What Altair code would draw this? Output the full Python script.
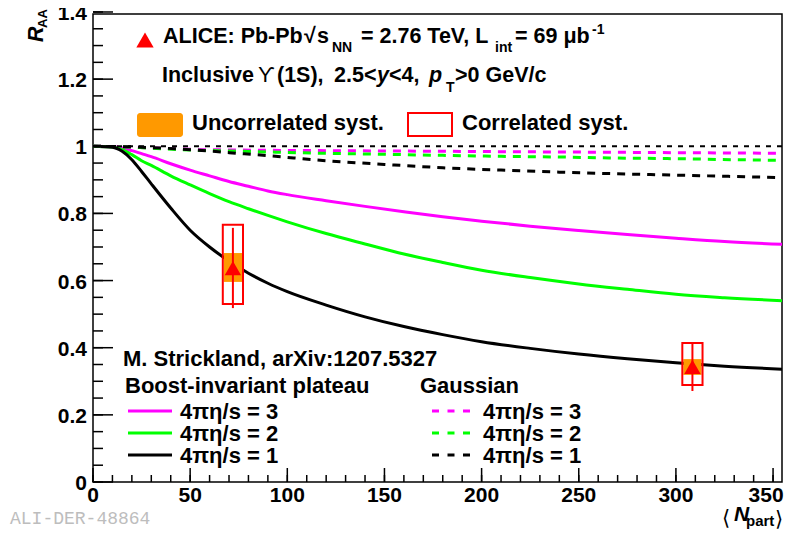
import altair as alt
import pandas as pd

# ---------------- data ----------------
# Boost-invariant plateau (solid curves)
N_SOLID = [0, 10, 15, 20, 25, 30, 40, 50, 60, 70, 80, 90, 100, 120, 140, 160,
           180, 200, 225, 250, 275, 300, 325, 358]
R_PLATEAU_3 = [1.0, 0.999, 0.995, 0.987, 0.978, 0.969, 0.948, 0.929, 0.912, 0.895,
               0.881, 0.867, 0.856, 0.838, 0.821, 0.805, 0.790, 0.777, 0.762, 0.749,
               0.737, 0.726, 0.716, 0.707]
R_PLATEAU_2 = [1.0, 0.998, 0.990, 0.975, 0.957, 0.943, 0.912, 0.885, 0.859, 0.835,
               0.814, 0.794, 0.775, 0.740, 0.709, 0.679, 0.654, 0.631, 0.609, 0.590,
               0.574, 0.559, 0.549, 0.539]
R_PLATEAU_1 = [1.0, 0.997, 0.985, 0.960, 0.925, 0.888, 0.816, 0.750, 0.700, 0.658,
               0.622, 0.592, 0.567, 0.527, 0.492, 0.463, 0.439, 0.418, 0.398, 0.381,
               0.367, 0.355, 0.345, 0.335]

# Gaussian (dashed curves)
N_GAUSS = [0, 15, 30, 50, 70, 90, 120, 150, 180, 210, 240, 270, 300, 330, 358]
R_GAUSS_3 = [1.0, 0.999, 0.995, 0.991, 0.989, 0.988, 0.987, 0.986, 0.985, 0.984,
             0.983, 0.982, 0.981, 0.980, 0.979]
R_GAUSS_2 = [1.0, 0.999, 0.994, 0.989, 0.986, 0.983, 0.979, 0.976, 0.973, 0.970,
             0.968, 0.965, 0.963, 0.960, 0.958]
R_GAUSS_1 = [1.0, 0.999, 0.996, 0.990, 0.981, 0.972, 0.957, 0.946, 0.936, 0.929,
             0.923, 0.918, 0.914, 0.910, 0.906]

ETA_LABELS = ["3", "2", "1"]
UNITY = [1.0]

# ALICE data points
PT_N = [72.0, 308.5]
PT_R = [0.637, 0.343]
STAT_LO = [0.518, 0.271]
STAT_HI = [0.757, 0.417]
UNC_LO = [0.596, 0.319]
UNC_HI = [0.682, 0.366]
COR_LO = [0.530, 0.289]
COR_HI = [0.766, 0.414]

# axis ticks and tick labels
X_TICKS = [0, 50, 100, 150, 200, 250, 300, 350]
X_TICK_TEXT = ["0", "50", "100", "150", "200", "250", "300", "350"]
X_MINOR = list(range(0, 351, 10))
Y_TICKS = [0.0, 0.2, 0.4, 0.6, 0.8, 1.0, 1.2, 1.4]
Y_TICK_TEXT = ["0", "0.2", "0.4", "0.6", "0.8", "1", "1.2", "1.4"]
Y_MINOR = [round(i * 0.05, 2) for i in range(29)]

# ---------------- layout ----------------
W, H = 689, 468
PAD_L, PAD_T = 85, 6
PAD_R = 776 - PAD_L - W
PAD_B = 521 - PAD_T - H
OX, OY = 8 + PAD_L, 8 + PAD_T
FONT = "Liberation Sans"
MAGENTA, GREEN, BLACK = "#ff00ff", "#00ff00", "#000000"
ORANGE = "#ff9900"
BOX_HALF_COR = 5.2
BOX_HALF_UNC = 4.7


def sx(x):
    return x - OX


def sy(y):
    return y - OY


one = pd.DataFrame({"k": [0]})


def label(s, x, y, size=22, italic=False, weight="bold", color="black",
          font=FONT, angle=None):
    kw = dict(text=s, align="left", baseline="alphabetic", font=font,
              fontSize=size, fontWeight=weight, color=color)
    if italic:
        kw["fontStyle"] = "italic"
    if angle is not None:
        kw["angle"] = angle
    return alt.Chart(one).mark_text(**kw).encode(
        x=alt.value(sx(x)), y=alt.value(sy(y)))


xscale = alt.Scale(domain=[0, 354.6], nice=False, zero=False)
yscale = alt.Scale(domain=[0, 1.394], nice=False, zero=False)
cscale = alt.Scale(domain=ETA_LABELS, range=[MAGENTA, GREEN, BLACK])

solid_df = pd.concat([
    pd.DataFrame({"N": N_SOLID, "R": r, "eta": e})
    for r, e in zip([R_PLATEAU_3, R_PLATEAU_2, R_PLATEAU_1], ETA_LABELS)
])
gauss_df = pd.concat([
    pd.DataFrame({"N": N_GAUSS, "R": r, "eta": e})
    for r, e in zip([R_GAUSS_3, R_GAUSS_2, R_GAUSS_1], ETA_LABELS)
])
pts_df = pd.DataFrame({"N": PT_N, "R": PT_R, "slo": STAT_LO, "shi": STAT_HI,
                       "ulo": UNC_LO, "uhi": UNC_HI, "clo": COR_LO, "chi": COR_HI})

solid = alt.Chart(solid_df).mark_line(strokeWidth=3, clip=True, interpolate="monotone").encode(
    x=alt.X("N:Q", scale=xscale, axis=None),
    y=alt.Y("R:Q", scale=yscale, axis=None),
    color=alt.Color("eta:N", scale=cscale, legend=None),
)
gauss = alt.Chart(gauss_df).mark_line(strokeWidth=3, strokeDash=[8, 7], clip=True,
                                      interpolate="monotone").encode(
    x=alt.X("N:Q", scale=xscale, axis=None),
    y=alt.Y("R:Q", scale=yscale, axis=None),
    color=alt.Color("eta:N", scale=cscale, legend=None),
)
unity = alt.Chart(pd.DataFrame({"R": UNITY})).mark_rule(
    color="black", strokeWidth=2, strokeDash=[5, 6]).encode(
    y=alt.Y("R:Q", scale=yscale, axis=None))

# ticks drawn inside the frame (ROOT style)
xmaj = alt.Chart(pd.DataFrame({"v": X_TICKS})).mark_rule(color="black", strokeWidth=1.5).encode(
    x=alt.X("v:Q", scale=xscale, axis=None), y=alt.value(H), y2=alt.value(H - 14))
xmin = alt.Chart(pd.DataFrame({"v": X_MINOR})).mark_rule(color="black", strokeWidth=1.5).encode(
    x=alt.X("v:Q", scale=xscale, axis=None), y=alt.value(H), y2=alt.value(H - 7))
ymaj = alt.Chart(pd.DataFrame({"v": Y_TICKS})).mark_rule(color="black", strokeWidth=1.5).encode(
    y=alt.Y("v:Q", scale=yscale, axis=None), x=alt.value(0), x2=alt.value(20))
ymin = alt.Chart(pd.DataFrame({"v": Y_MINOR})).mark_rule(color="black", strokeWidth=1.5).encode(
    y=alt.Y("v:Q", scale=yscale, axis=None), x=alt.value(0), x2=alt.value(10))

# tick labels
xlab_df = pd.DataFrame({"v": X_TICKS, "t": X_TICK_TEXT})
xlab_style = dict(font=FONT, fontSize=21, fontWeight="bold", align="center",
                  baseline="top", color="black")
xlab = alt.Chart(xlab_df.iloc[:-1]).mark_text(**xlab_style).encode(
    x=alt.X("v:Q", scale=xscale, axis=None), y=alt.value(H + 3), text="t:N")
xlab_last = alt.Chart(xlab_df.iloc[-1:]).mark_text(dx=-7, **xlab_style).encode(
    x=alt.X("v:Q", scale=xscale, axis=None), y=alt.value(H + 3), text="t:N")
ylab = alt.Chart(pd.DataFrame({"v": Y_TICKS, "t": Y_TICK_TEXT})).mark_text(
    font=FONT, fontSize=21, fontWeight="bold", align="right", baseline="middle",
    color="black", dy=2).encode(
    y=alt.Y("v:Q", scale=yscale, axis=None), x=alt.value(-6), text="t:N")

pts_base = alt.Chart(pts_df).transform_calculate(
    ca=f"datum.N - {BOX_HALF_COR}", cb=f"datum.N + {BOX_HALF_COR}",
    ua=f"datum.N - {BOX_HALF_UNC}", ub=f"datum.N + {BOX_HALF_UNC}")
unc_box = pts_base.mark_rect(color=ORANGE).encode(
    x=alt.X("ua:Q", scale=xscale, axis=None), x2="ub:Q",
    y=alt.Y("ulo:Q", scale=yscale, axis=None), y2="uhi:Q")
cor_box = pts_base.mark_rect(fillOpacity=0, stroke="red", strokeWidth=2).encode(
    x=alt.X("ca:Q", scale=xscale, axis=None), x2="cb:Q",
    y=alt.Y("clo:Q", scale=yscale, axis=None), y2="chi:Q")
stat_bar = pts_base.mark_rule(color="red", strokeWidth=2).encode(
    x=alt.X("N:Q", scale=xscale, axis=None),
    y=alt.Y("slo:Q", scale=yscale, axis=None), y2="shi:Q")
markers = pts_base.mark_point(shape="triangle-up", filled=True, color="red",
                              size=270, opacity=1).encode(
    x=alt.X("N:Q", scale=xscale, axis=None),
    y=alt.Y("R:Q", scale=yscale, axis=None))

# ---------------- annotations ----------------
leg = []
leg.append(alt.Chart(one).mark_point(shape="triangle-up", filled=True, color="red",
                                     size=300, opacity=1).encode(
    x=alt.value(sx(145)), y=alt.value(sy(40))))
leg += [
    label("ALICE: Pb-Pb", 163, 43, size=21.5),
    label("√", 304, 43, size=21.5),
    label("s", 317, 43, size=21.5),
    label("NN", 332, 52, size=14),
    label("= 2.76 TeV, L", 361, 43, size=21.5),
    label("int", 495, 52, size=14),
    label("= 69 μb", 515, 43, size=21.5),
    label("-1", 592, 34, size=14),
    label("Inclusive", 162, 82, size=21.5),
    label("ϒ", 258, 82, size=21.5, weight="normal"),
    label("(1S),", 277, 82, size=21.5),
    label("2.5<", 334, 82, size=21.5),
    label("y", 377, 82, size=21.5, italic=True),
    label("<4,", 389, 82, size=21.5),
    label("p", 429, 82, size=21.5, italic=True),
    label("T", 446, 92, size=14),
    label(">0 GeV/c", 455, 82, size=21.5),
]
leg.append(alt.Chart(one).mark_rect(color=ORANGE, cornerRadius=3).encode(
    x=alt.value(sx(137)), x2=alt.value(sx(183)), y=alt.value(sy(113)), y2=alt.value(sy(137))))
leg.append(label("Uncorrelated syst.", 192, 130))
leg.append(alt.Chart(one).mark_rect(fillOpacity=0, stroke="red", strokeWidth=2).encode(
    x=alt.value(sx(408)), x2=alt.value(sx(452)), y=alt.value(sy(113)), y2=alt.value(sy(136))))
leg.append(label("Correlated syst.", 462, 130))

leg += [
    label("M. Strickland, arXiv:1207.5327", 123, 366),
    label("Boost-invariant plateau", 125, 393),
    label("Gaussian", 420, 393),
]
for i, (col, e) in enumerate(zip([MAGENTA, GREEN, BLACK], ETA_LABELS)):
    ly = 411 + 22 * i
    leg.append(alt.Chart(one).mark_rule(color=col, strokeWidth=3).encode(
        x=alt.value(sx(128)), x2=alt.value(sx(172)), y=alt.value(sy(ly))))
    leg.append(label(f"4πη/s = {e}", 180, ly + 8))
    leg.append(alt.Chart(one).mark_rule(color=col, strokeWidth=3, strokeDash=[7, 8.5]).encode(
        x=alt.value(sx(432)), x2=alt.value(sx(471)), y=alt.value(sy(ly))))
    leg.append(label(f"4πη/s = {e}", 483, ly + 8))

# axis titles and watermark
leg += [
    label("R", 43, 42, size=21.5, italic=True, angle=270),
    label("AA", 47, 28, size=13, angle=270),
    label("⟨", 722, 525, size=21, weight="normal"),
    label("N", 734, 521, size=21, italic=True),
    label("part", 746, 526, size=15),
    label("⟩", 775, 526, size=21, weight="normal"),
    label("ALI-DER-48864", 10, 524, size=18, weight="normal", color="#bdbdbd",
          font="Liberation Mono"),
]

chart = alt.layer(
    solid, gauss, unity, xmaj, xmin, ymaj, ymin, xlab, xlab_last, ylab,
    unc_box, cor_box, stat_bar, markers, *leg
).properties(
    width=W, height=H,
    padding={"left": PAD_L, "top": PAD_T, "right": PAD_R, "bottom": PAD_B},
    autosize=alt.AutoSizeParams(type="none"),
    background="white",
).configure_view(stroke="black", strokeWidth=1.5)

chart.save("out.html", embed_options={"renderer": "svg", "actions": False})
